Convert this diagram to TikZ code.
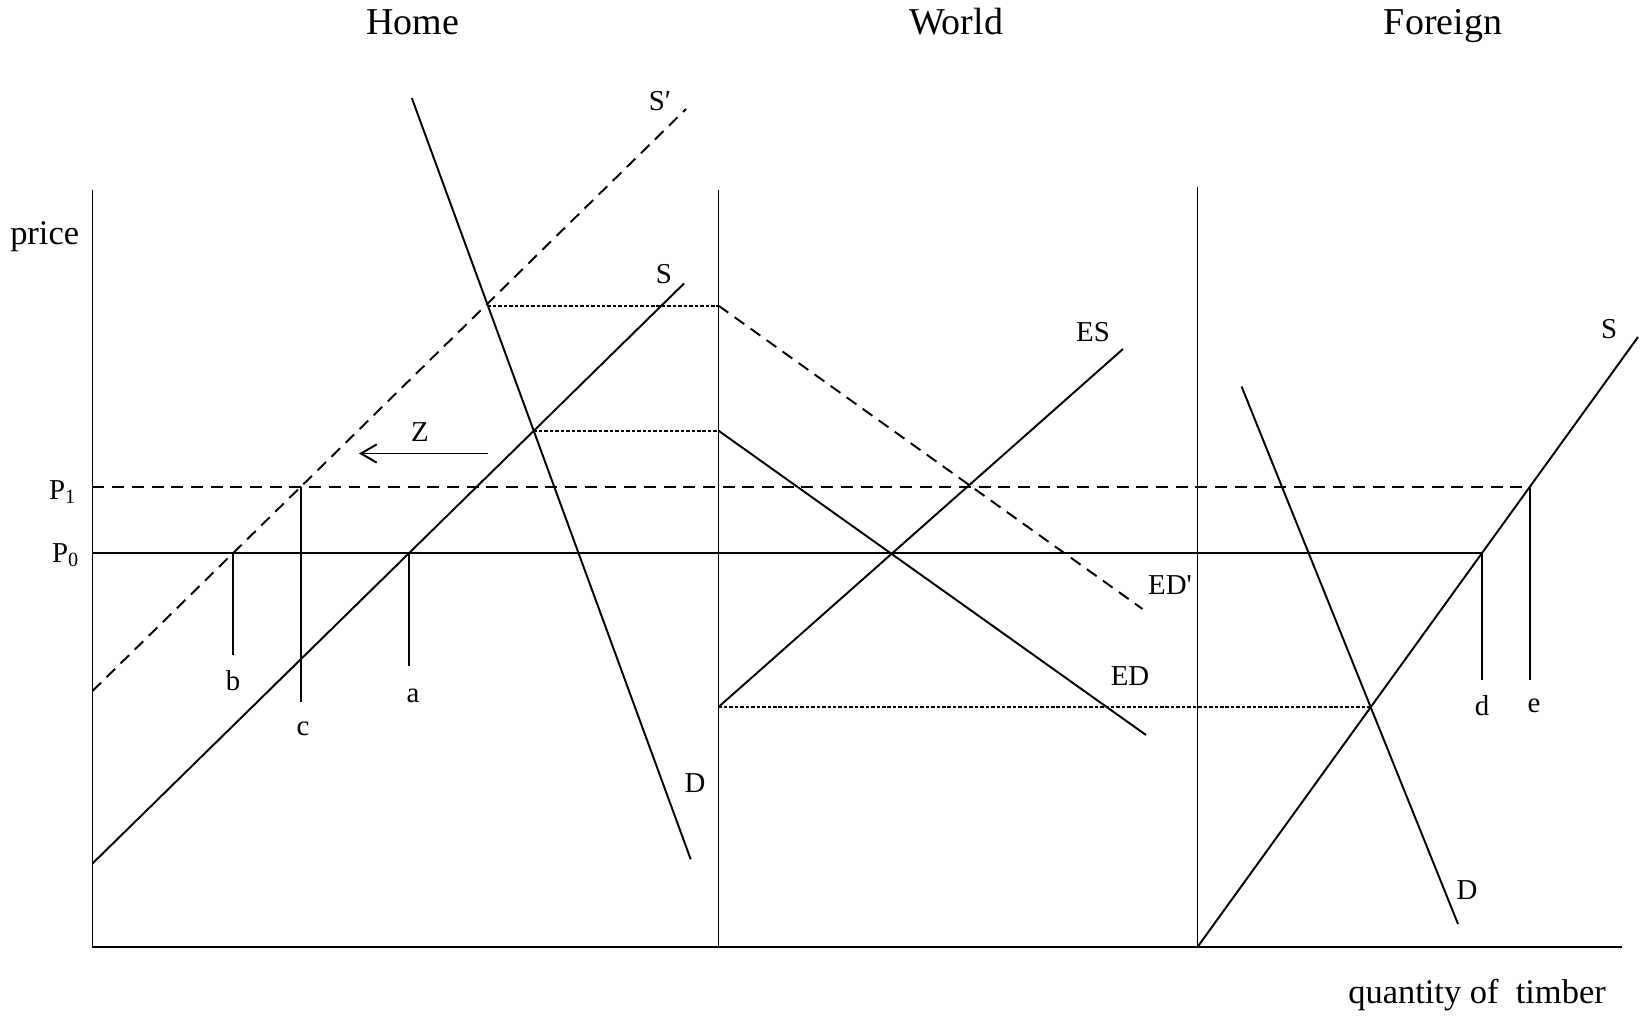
\documentclass[tikz,border=0pt]{standalone}
\usepackage{fontspec}
\setmainfont{Liberation Serif}
\usetikzlibrary{arrows.meta}

\begin{document}
\begin{tikzpicture}[
	x=0.01cm,
	y=-0.01cm,
	line width=0.55pt,
	longdash/.style={dash pattern=on 3.4pt off 2.2pt},
	finedash/.style={dash pattern=on 1pt off 0.55pt},
	title/.style={font=\fontsize{10.8}{13}\selectfont, inner sep=0pt, anchor=base},
	axislbl/.style={font=\fontsize{9.8}{12}\selectfont, inner sep=0pt, anchor=base},
	lbl/.style={font=\fontsize{8.2}{10}\selectfont, inner sep=0pt}
]
	\useasboundingbox (0,0) rectangle (1646,1016);

	% Achsen
	\coordinate (hTop) at (92.5,190);
	\coordinate (hO)   at (92.5,947);
	\coordinate (wTop) at (718.5,190);
	\coordinate (wO)   at (718.5,947);
	\coordinate (fTop) at (1197.5,187);
	\coordinate (fO)   at (1197.5,947);
	\coordinate (qEnd) at (1622,947);
	\draw (hTop) -- (hO) -- (qEnd);
	\draw (wTop) -- (wO);
	\draw (fTop) -- (fO);

	% Preise P1 und P0
	\coordinate (pOne)  at (92.5,486.7);
	\coordinate (eTop)  at (1530,486.7);
	\coordinate (pZero) at (92.5,553.3);
	\coordinate (dTop)  at (1481.8,553.3);
	\draw[
		longdash
	] (pOne) -- (eTop);
	\draw (pZero) -- (dTop);

	% Home: S, S' und D
	\coordinate (hSa)  at (92.5,863.5);
	\coordinate (hSb)  at (684,283.5);
	\coordinate (hSpa) at (92.5,691);
	\coordinate (hSpb) at (686,109);
	\coordinate (hDa)  at (411.8,98);
	\coordinate (hDb)  at (690.7,859.3);
	\draw (hSa) -- (hSb);
	\draw[
		longdash
	] (hSpa) -- (hSpb);
	\draw (hDa) -- (hDb);

	% Mengen b, c, a
	\coordinate (bTop) at (233,553.3);
	\coordinate (bBot) at (233,655);
	\coordinate (cTop) at (301,486.7);
	\coordinate (cBot) at (301,702);
	\coordinate (aTop) at (409,553.3);
	\coordinate (aBot) at (409,666);
	\draw (bTop) -- (bBot);
	\draw (cTop) -- (cBot);
	\draw (aTop) -- (aBot);

	% Hilfslinien
	\coordinate (hUp) at (487.5,305.7);
	\coordinate (wUp) at (718.5,305.7);
	\coordinate (hLo) at (533.5,430.7);
	\coordinate (wLo) at (718.5,430.7);
	\coordinate (wES) at (718.5,707);
	\coordinate (fX)  at (1370.8,707);
	\draw[
		finedash
	] (hUp) -- (wUp);
	\draw[
		finedash
	] (hLo) -- (wLo);
	\draw[
		finedash
	] (wES) -- (fX);

	% World: ED', ED und ES
	\coordinate (edpEnd) at (1142.5,609);
	\coordinate (edEnd)  at (1146,735);
	\coordinate (esEnd)  at (1123,349);
	\draw[
		longdash
	] (wUp) -- (edpEnd);
	\draw (wLo) -- (edEnd);
	\draw (wES) -- (esEnd);

	% Foreign: S und D
	\coordinate (fSb) at (1638,337);
	\coordinate (fDa) at (1241.6,386.6);
	\coordinate (fDb) at (1458,924);
	\draw (fO) -- (fSb);
	\draw (fDa) -- (fDb);

	% Mengen d, e
	\coordinate (dBot) at (1481.8,680);
	\coordinate (eBot) at (1530,680);
	\draw (dTop) -- (dBot);
	\draw (eTop) -- (eBot);

	% Pfeil Z
	\coordinate (zR) at (488,453.5);
	\coordinate (zL) at (359,453.5);
	\draw[
		-{Straight Barb[length=4.5pt,width=5.2pt]}
	] (zR) -- (zL);

	% Beschriftung
	%  Titel
	\node[title] (home)    at (412.5,35) {Home};
	\node[title] (world)   at (956,35)   {World};
	\node[title] (foreign) at (1443,35)  {Foreign};
	%  Achsen
	\node[axislbl] (price)    at (44.7,245) {price};
	\node[axislbl] (quantity) at (1477,1003) {quantity of\ \ timber};
	%  Kurven
	\node[lbl] (lSp)  at (660,101)  {S′};
	\node[lbl] (lS)   at (664,274)  {S};
	\node[lbl] (lD)   at (695,783)  {D};
	\node[lbl] (lZ)   at (420,432)  {Z};
	\node[lbl] (lES)  at (1093,332) {ES};
	\node[lbl] (lEDp) at (1170,585) {ED\textquotesingle};
	\node[lbl] (lED)  at (1130,676) {ED};
	\node[lbl] (lfS)  at (1609,329) {S};
	\node[lbl] (lfD)  at (1467,890) {D};
	%  Mengen und Preise
	\node[lbl] (lb)  at (233,681) {b};
	\node[lbl] (lc)  at (303,729) {c};
	\node[lbl] (la)  at (413,696) {a};
	\node[lbl] (ld)  at (1482,706) {d};
	\node[lbl] (le)  at (1534,706) {e};
	\node[lbl] (lPone)  at (63,492) {P\textsubscript{1}};
	\node[lbl] (lPzero) at (66,555) {P\textsubscript{0}};
\end{tikzpicture}
\end{document}
